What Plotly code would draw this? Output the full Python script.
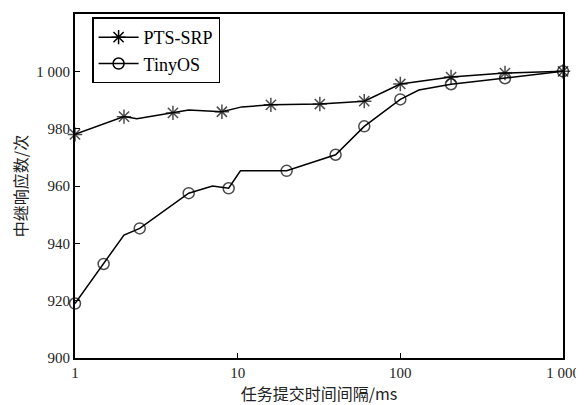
import plotly.graph_objects as go

# PTS-SRP (line vertices; marker shown where flag is 1)
pts_x = [1, 2, 2.4, 4, 5, 8, 10.6, 16, 32, 60, 100, 205, 440, 1000]
pts_y = [978, 984.2, 983.5, 985.5, 986.5, 985.9, 987.6, 988.3, 988.6, 989.6, 995.6, 998, 999.4, 1000]
pts_mark = [1, 1, 0, 1, 0, 1, 0, 1, 1, 1, 1, 1, 1, 1]

# TinyOS
tiny_x = [1, 1.5, 2, 2.5, 5, 7, 8.8, 10.4, 20, 40, 60, 100, 130, 205, 440, 1000]
tiny_y = [919, 932.8, 942.9, 945.2, 957.5, 960, 959.2, 965.3, 965.3, 970.9, 980.8, 990.2, 993.5, 995.5, 997.6, 1000]
tiny_mark = [1, 1, 0, 1, 1, 0, 1, 0, 1, 1, 1, 1, 0, 1, 1, 1]

y_ticks = [900, 920, 940, 960, 980, 1000]
y_tick_labels = ["900", "920", "940", "960", "980", "1 000"]
x_ticks = [1, 10, 100, 1000]
x_tick_labels = ["1", "10", "100", "1 000"]

serif = "Liberation Serif, Times New Roman, serif"
cjk = "Noto Sans CJK SC"

series = [
    ("PTS-SRP", pts_x, pts_y, pts_mark, "asterisk-open", 12),
    ("TinyOS", tiny_x, tiny_y, tiny_mark, "circle-open", 11),
]

fig = go.Figure()
for name, xs, ys, flags, sym, sz in series:
    fig.add_trace(go.Scatter(
        x=xs, y=ys, mode="lines+markers", name=name, showlegend=False,
        line=dict(color="black", width=1.5),
        marker=dict(symbol=sym, size=[sz if m else 0 for m in flags],
                    color="black", line=dict(color="black", width=1.5)),
        cliponaxis=False,
    ))
for name, xs, ys, flags, sym, sz in series:
    # legend-only entry (no data drawn)
    fig.add_trace(go.Scatter(
        x=[None], y=[None], mode="lines+markers", name=name, showlegend=True,
        line=dict(color="black", width=1.5),
        marker=dict(symbol=sym, size=sz, color="black",
                    line=dict(color="black", width=1.5)),
    ))

# page body adds an 8px margin, so the figure is 8px smaller on each axis
fig.update_layout(
    width=576, height=397,
    margin=dict(l=67, r=17, t=4, b=47),
    paper_bgcolor="white", plot_bgcolor="white",
    showlegend=True,
    legend=dict(
        x=0.035, y=0.99, xanchor="left", yanchor="top",
        bgcolor="white", bordercolor="black", borderwidth=1.5,
        font=dict(family=serif, size=18, color="black"),
        tracegroupgap=0, itemwidth=40,
    ),
    font=dict(family=serif, size=14, color="black"),
)
fig.update_xaxes(
    type="log", range=[0, 3],
    tickvals=x_ticks, ticktext=x_tick_labels,
    ticks="inside", ticklen=5, tickwidth=1, tickcolor="black",
    showline=True, linecolor="black", linewidth=2, mirror=True,
    showgrid=False, zeroline=False,
    tickfont=dict(family=serif, size=15, color="#222"),
    title=dict(text="任务提交时间间隔/ms", font=dict(family=cjk, size=16, color="#222"), standoff=2),
)
fig.update_yaxes(
    range=[900, 1020],
    tickvals=y_ticks, ticktext=y_tick_labels,
    ticks="inside", ticklen=5, tickwidth=1, tickcolor="black",
    showline=True, linecolor="black", linewidth=2, mirror=True,
    showgrid=False, zeroline=False,
    tickfont=dict(family=serif, size=15, color="#222"),
    title=dict(text="中继响应数/次", font=dict(family=cjk, size=16, color="#222"), standoff=6),
)

fig.write_html("out.html")
